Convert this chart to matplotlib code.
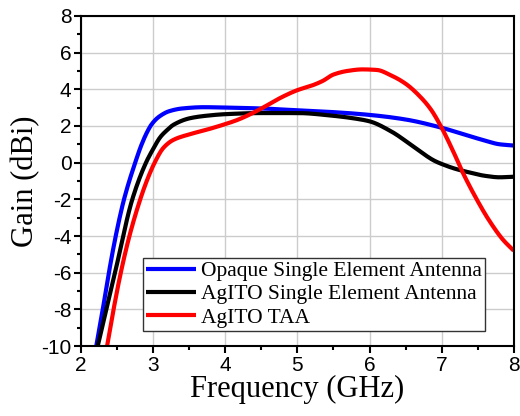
import numpy as np
import matplotlib
matplotlib.use("Agg")
import matplotlib.pyplot as plt
from matplotlib.ticker import MultipleLocator

plt.rcParams["axes.unicode_minus"] = False

# gain curves (frequency in GHz, gain in dBi)
opaque_f = [2.21, 2.3, 2.385, 2.48, 2.595, 2.75, 2.84, 2.92, 2.98, 3.08, 3.22, 3.4, 3.7, 4.0,
            4.5, 5.0, 5.5, 6.0, 6.5, 7.0, 7.3, 7.6, 7.8, 8.0]
opaque_g = [-10, -8, -6, -4, -2, 0, 1.0, 1.7, 2.1, 2.5, 2.8, 2.95, 3.02, 3.0,
            2.95, 2.85, 2.75, 2.6, 2.35, 1.9, 1.55, 1.2, 1.0, 0.93]

agito_f = [2.23, 2.47, 2.71, 2.9, 3.0, 3.1, 3.2, 3.28, 3.51, 3.75, 4.0,
           4.5, 5.0, 5.5, 5.8, 6.0, 6.3, 6.6, 6.9, 7.05, 7.2, 7.4, 7.6, 7.8, 8.0]
agito_g = [-10, -6, -2, 0, 0.75, 1.4, 1.8, 2.06, 2.42, 2.56, 2.64,
           2.7, 2.7, 2.55, 2.4, 2.25, 1.7, 0.9, 0.1, -0.15, -0.35, -0.55, -0.72, -0.8, -0.77]

taa_f = [2.36, 2.45, 2.55, 2.67, 2.82, 2.92, 3.02, 3.14, 3.28, 3.51, 3.73, 4.0, 4.15, 4.3,
         4.5, 4.8, 5.0, 5.2, 5.35, 5.5, 5.7, 5.9, 6.1, 6.3, 6.5, 6.7, 6.85, 7.0, 7.15,
         7.3, 7.5, 7.65, 7.85, 8.0]
taa_g = [-10, -8, -6, -4, -2, -0.9, 0, 0.8, 1.24, 1.55, 1.78, 2.1, 2.3, 2.55,
         2.95, 3.6, 3.95, 4.2, 4.45, 4.8, 5.0, 5.08, 5.05, 4.75, 4.3, 3.6, 2.9, 1.9, 0.7,
         -0.6, -2.1, -3.1, -4.2, -4.8]

labels = ["Opaque Single Element Antenna", "AgITO Single Element Antenna", "AgITO TAA"]
colors = ["#0000ff", "#000000", "#ff0000"]


def smooth(x, y, n=400):
    # monotone cubic (pchip-style) curve through the read points, only for drawing
    x = np.asarray(x, float)
    y = np.asarray(y, float)
    h = np.diff(x)
    d = np.diff(y) / h
    m = np.zeros_like(y)
    for k in range(1, len(x) - 1):
        if d[k - 1] * d[k] > 0:
            w1 = 2 * h[k] + h[k - 1]
            w2 = h[k] + 2 * h[k - 1]
            m[k] = (w1 + w2) / (w1 / d[k - 1] + w2 / d[k])
    m[0] = d[0]
    m[-1] = d[-1]
    xs = np.linspace(x[0], x[-1], n)
    i = np.clip(np.searchsorted(x, xs) - 1, 0, len(x) - 2)
    t = (xs - x[i]) / h[i]
    h00 = 2 * t**3 - 3 * t**2 + 1
    h10 = t**3 - 2 * t**2 + t
    h01 = -2 * t**3 + 3 * t**2
    h11 = t**3 - t**2
    ys = h00 * y[i] + h10 * h[i] * m[i] + h01 * y[i + 1] + h11 * h[i] * m[i + 1]
    return xs, ys


fig = plt.figure(figsize=(5.2, 4.16), dpi=100)
ax = fig.add_axes([0.156, 0.168, 0.832, 0.794])

for f, g, lab, c in zip([opaque_f, agito_f, taa_f], [opaque_g, agito_g, taa_g], labels, colors):
    xs, ys = smooth(f, g)
    ax.plot(xs, ys, color=c, lw=3, label=lab, solid_capstyle="butt")

ax.set_xlim(2, 8)
ax.set_ylim(-10, 8)
ax.xaxis.set_major_locator(MultipleLocator(1))
ax.xaxis.set_minor_locator(MultipleLocator(0.5))
ax.yaxis.set_major_locator(MultipleLocator(2))
ax.yaxis.set_minor_locator(MultipleLocator(1))
ax.grid(True, which="major", color="#cccccc", lw=1)
ax.set_axisbelow(True)

for s in ax.spines.values():
    s.set_linewidth(1.5)
ax.tick_params(which="both", direction="out", width=1.5, top=False, right=False)
ax.tick_params(which="major", length=5, labelsize=15, pad=2)
ax.tick_params(which="minor", length=3)
for t in ax.get_xticklabels() + ax.get_yticklabels():
    t.set_family("Liberation Sans")

ax.set_xlabel("Frequency (GHz)", family="Liberation Serif", fontsize=22, labelpad=0)
ax.set_ylabel("Gain (dBi)", family="Liberation Serif", fontsize=22, labelpad=1)

leg = ax.legend(loc="lower left", bbox_to_anchor=(0.143, 0.046), prop={"family": "Liberation Serif", "size": 15.5},
                frameon=True, fancybox=False, handlelength=2.3, handletextpad=0.25,
                borderpad=0.15, labelspacing=0.15, borderaxespad=0)
leg.get_frame().set_edgecolor("#333333")
leg.get_frame().set_linewidth(1)
leg.get_frame().set_alpha(1)

fig.savefig("out.png", dpi=100)
